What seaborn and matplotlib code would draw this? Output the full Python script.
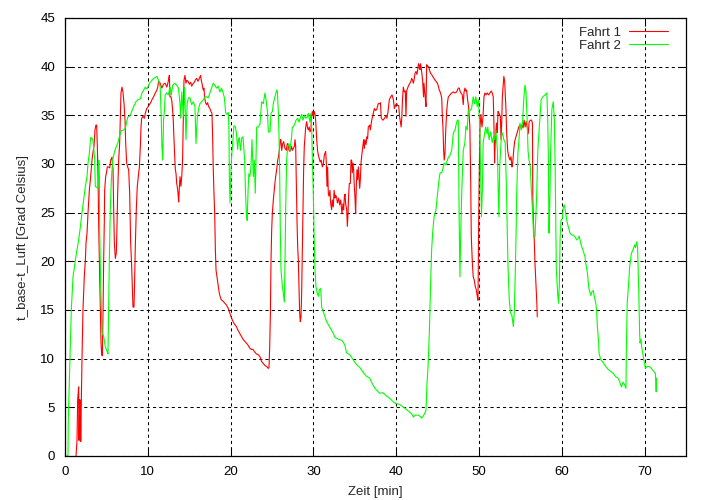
import matplotlib
matplotlib.use("Agg")
import matplotlib.pyplot as plt
import seaborn as sns

sns.set_style("ticks")
plt.rcParams['font.family'] = ['Liberation Sans', 'DejaVu Sans']
plt.rcParams['font.size'] = 9.5

# Fahrt 1 (red), Zeit in min
t_fahrt1 = [
    1.33, 1.45, 1.53, 1.65, 1.69, 1.78, 1.85, 1.9, 2.05, 2.17, 2.33, 2.46, 2.54, 2.66, 2.78, 2.94,
    3.1, 3.26, 3.38, 3.5, 3.62, 3.74, 3.82, 3.9, 3.99, 4.07, 4.19, 4.27, 4.35, 4.43, 4.51, 4.59,
    4.67, 4.75, 4.79, 4.91, 5.03, 5.11, 5.27, 5.4, 5.52, 5.68, 5.8, 5.88, 5.96, 6.08, 6.2, 6.28,
    6.36, 6.48, 6.6, 6.68, 6.76, 6.88, 7.0, 7.13, 7.25, 7.33, 7.45, 7.57, 7.69, 7.81, 7.93, 8.05,
    8.13, 8.21, 8.33, 8.41, 8.49, 8.61, 8.73, 8.85, 8.98, 9.1, 9.18, 9.26, 9.42, 9.58, 9.7, 9.87,
    10.03, 10.2, 10.4, 10.55, 10.7, 10.9, 11.05, 11.2, 11.3, 11.5, 11.7, 11.9, 12.1, 12.3, 12.5, 12.6,
    12.68, 12.8, 12.9, 13.0, 13.08, 13.15, 13.25, 13.33, 13.41, 13.49, 13.57, 13.65, 13.73, 13.81, 13.89, 14.0,
    14.1, 14.2, 14.29, 14.37, 14.49, 14.61, 14.7, 14.86, 15.02, 15.18, 15.3, 15.42, 15.62, 15.78, 15.9, 16.06,
    16.22, 16.38, 16.46, 16.54, 16.62, 16.7, 16.78, 16.86, 16.98, 17.1, 17.22, 17.34, 17.5, 17.62, 17.75, 17.83,
    17.9, 17.99, 18.08, 18.16, 18.24, 18.4, 18.52, 18.64, 18.8, 18.93, 19.1, 19.3, 19.5, 19.7, 19.9, 20.1,
    20.3, 20.5, 20.7, 20.9, 21.1, 21.3, 21.5, 21.7, 21.9, 22.1, 22.3, 22.5, 22.7, 22.9, 23.1, 23.35,
    23.55, 23.75, 23.95, 24.15, 24.35, 24.55, 24.64, 24.72, 24.8, 24.88, 24.96, 25.04, 25.16, 25.3, 25.44, 25.56,
    25.69, 25.77, 25.89, 26.0, 26.08, 26.17, 26.29, 26.41, 26.57, 26.73, 26.85, 26.97, 27.05, 27.17, 27.29, 27.37,
    27.45, 27.57, 27.7, 27.78, 27.86, 27.94, 28.02, 28.1, 28.18, 28.26, 28.34, 28.42, 28.5, 28.58, 28.66, 28.74,
    28.82, 28.9, 29.07, 29.19, 29.3, 29.38, 29.5, 29.59, 29.7, 29.79, 29.87, 29.99, 30.1, 30.19, 30.27, 30.4,
    30.5, 30.6, 30.7, 30.82, 30.94, 31.08, 31.2, 31.32, 31.48, 31.56, 31.64, 31.72, 31.8, 31.88, 32.0, 32.08,
    32.2, 32.28, 32.4, 32.5, 32.6, 32.68, 32.8, 32.9, 33.05, 33.17, 33.3, 33.45, 33.57, 33.65, 33.74, 33.82,
    33.9, 34.02, 34.1, 34.18, 34.26, 34.34, 34.46, 34.54, 34.62, 34.7, 34.78, 34.86, 34.94, 35.02, 35.1, 35.18,
    35.26, 35.35, 35.43, 35.51, 35.59, 35.67, 35.75, 35.83, 35.95, 36.07, 36.15, 36.23, 36.35, 36.47, 36.55, 36.63,
    36.8, 36.88, 37.04, 37.16, 37.28, 37.36, 37.5, 37.64, 37.84, 38.0, 38.1, 38.2, 38.4, 38.6, 38.72, 38.8,
    38.88, 39.0, 39.17, 39.33, 39.5, 39.66, 39.78, 39.94, 40.06, 40.18, 40.3, 40.4, 40.5, 40.6, 40.68, 40.76,
    40.86, 40.98, 41.1, 41.18, 41.26, 41.42, 41.58, 41.74, 41.87, 41.99, 42.07, 42.15, 42.27, 42.39, 42.51, 42.59,
    42.7, 42.79, 42.87, 42.95, 43.03, 43.11, 43.19, 43.3, 43.35, 43.43, 43.51, 43.6, 43.68, 43.8, 43.92, 44.04,
    44.16, 44.28, 44.4, 44.57, 44.69, 44.81, 44.97, 45.09, 45.2, 45.36, 45.5, 45.57, 45.65, 45.73, 45.8, 45.89,
    45.97, 46.1, 46.22, 46.3, 46.5, 46.7, 46.9, 47.1, 47.3, 47.5, 47.62, 47.7, 47.82, 47.98, 48.1, 48.18,
    48.3, 48.42, 48.5, 48.62, 48.74, 48.9, 49.0, 49.07, 49.2, 49.3, 49.42, 49.55, 49.67, 49.79, 49.88, 49.96,
    50.04, 50.12, 50.24, 50.36, 50.48, 50.6, 50.72, 50.84, 51.0, 51.16, 51.32, 51.48, 51.6, 51.72, 51.8, 51.88,
    51.96, 52.04, 52.12, 52.2, 52.3, 52.42, 52.58, 52.66, 52.74, 52.82, 53.0, 53.1, 53.26, 53.34, 53.46, 53.58,
    53.74, 53.86, 53.99, 54.07, 54.19, 54.3, 54.47, 54.63, 54.8, 54.95, 55.07, 55.2, 55.32, 55.45, 55.57, 55.7,
    55.82, 55.94, 56.06, 56.2, 56.35, 56.45, 56.5, 56.58, 56.66, 56.76, 56.84, 56.92, 56.98, 57.04,
]
v_fahrt1 = [
    0.0, 1.6, 5.8, 7.1, 1.6, 5.8, 5.6, 1.5, 9.9, 15.0, 18.4, 20.1, 21.9, 22.9, 25.0, 27.3,
    28.7, 30.4, 31.2, 31.8, 33.5, 34.0, 34.0, 32.0, 28.7, 23.6, 18.4, 15.0, 11.6, 10.4, 10.3, 14.7,
    20.1, 24.2, 27.3, 28.7, 29.2, 29.7, 29.7, 29.6, 30.4, 30.7, 29.4, 25.3, 21.9, 20.3, 20.9, 23.6,
    27.0, 30.4, 32.1, 34.5, 37.3, 37.9, 37.4, 36.2, 34.5, 32.1, 30.1, 29.7, 29.4, 27.0, 21.9, 19.5,
    17.4, 15.3, 15.3, 18.1, 21.5, 25.3, 27.7, 28.7, 29.7, 31.8, 33.8, 34.7, 34.9, 34.7, 35.2, 35.7,
    35.9, 36.1, 36.4, 36.7, 36.9, 37.3, 37.5, 37.9, 38.5, 38.3, 37.8, 38.2, 38.3, 37.9, 38.6, 39.1,
    36.9, 36.9, 36.5, 35.5, 34.5, 32.8, 30.75, 29.4, 29.0, 28.0, 27.6, 27.0, 26.1, 27.6, 28.7, 27.7,
    28.7, 30.4, 34.5, 38.6, 39.1, 38.3, 38.6, 38.5, 38.2, 38.4, 38.0, 38.2, 38.4, 38.7, 38.8, 38.5,
    38.8, 39.1, 38.6, 38.3, 37.9, 37.6, 37.8, 36.8, 36.3, 36.1, 36.3, 35.9, 35.7, 35.4, 35.2, 32.8,
    29.7, 27.0, 24.9, 21.2, 19.1, 18.1, 17.4, 16.7, 16.2, 16.0, 15.9, 15.7, 15.5, 15.2, 14.7, 14.2,
    13.8, 13.5, 13.3, 12.9, 12.6, 12.3, 12.0, 11.8, 11.6, 11.4, 11.1, 10.95, 10.95, 10.7, 10.5, 10.4,
    10.2, 9.7, 9.5, 9.3, 9.2, 9.0, 9.1, 11.2, 14.3, 20.1, 23.2, 24.9, 26.3, 27.6, 28.7, 29.4,
    30.4, 30.7, 31.4, 32.5, 32.5, 31.4, 32.1, 32.3, 31.6, 31.4, 32.1, 31.9, 31.4, 31.3, 31.6, 31.8,
    31.4, 31.6, 31.8, 32.5, 31.8, 27.7, 24.2, 21.5, 20.1, 17.4, 14.7, 13.8, 14.3, 16.7, 20.8, 25.3,
    29.4, 31.8, 33.8, 34.35, 33.7, 33.5, 33.8, 33.3, 33.5, 34.9, 35.4, 34.9, 35.4, 35.1, 34.5, 32.5,
    31.4, 30.9, 30.6, 30.2, 30.4, 29.7, 30.0, 30.9, 31.3, 30.1, 27.7, 29.7, 27.0, 26.7, 27.3, 26.0,
    25.3, 26.3, 25.6, 27.3, 26.5, 26.8, 26.6, 26.0, 26.5, 25.8, 26.3, 24.9, 25.9, 25.3, 26.6, 26.9,
    25.9, 25.3, 23.6, 24.9, 26.9, 28.0, 28.0, 30.4, 30.4, 29.1, 30.1, 29.4, 27.7, 26.6, 24.9, 27.6,
    29.4, 28.4, 29.7, 28.7, 27.5, 28.4, 30.1, 30.8, 31.7, 32.5, 31.6, 32.5, 32.0, 32.8, 32.6, 33.8,
    34.0, 33.5, 34.5, 34.9, 35.4, 35.7, 35.5, 35.6, 36.2, 36.2, 36.3, 34.7, 34.5, 34.7, 34.9, 35.0,
    34.7, 35.3, 36.6, 36.9, 37.1, 36.6, 35.7, 36.1, 36.2, 36.0, 36.0, 34.9, 34.35, 33.8, 34.9, 36.6,
    37.9, 37.4, 37.5, 34.9, 37.5, 37.9, 38.2, 38.4, 38.8, 38.6, 38.3, 38.6, 39.3, 39.5, 39.2, 39.7,
    40.3, 40.1, 39.7, 40.3, 39.8, 39.2, 38.6, 36.9, 38.3, 37.6, 36.8, 35.9, 40.2, 40.0, 40.0, 39.6,
    39.3, 39.2, 39.0, 38.8, 38.6, 38.5, 38.3, 38.0, 37.6, 37.3, 36.75, 34.9, 33.7, 31.4, 30.4, 31.1,
    33.2, 35.5, 36.5, 36.9, 37.1, 37.3, 37.4, 37.3, 37.4, 37.8, 37.8, 37.5, 37.3, 37.1, 36.1, 37.3,
    37.8, 37.5, 37.6, 36.6, 35.9, 33.8, 28.0, 22.5, 19.8, 18.4, 18.1, 17.4, 17.1, 16.4, 16.0, 23.9,
    29.7, 33.8, 35.1, 33.8, 34.8, 36.9, 37.3, 37.1, 37.3, 37.1, 37.3, 37.5, 37.3, 36.9, 34.2, 30.1,
    32.2, 33.5, 34.2, 33.2, 35.4, 35.2, 34.9, 32.5, 34.2, 36.9, 39.0, 38.5, 35.5, 33.2, 31.4, 30.8,
    30.4, 30.75, 29.7, 30.1, 31.4, 32.3, 32.8, 33.3, 33.8, 34.0, 33.8, 34.0, 33.7, 34.5, 33.8, 34.35,
    33.8, 33.1, 34.35, 34.5, 34.5, 34.2, 26.3, 23.9, 22.5, 19.8, 18.4, 17.1, 15.8, 14.3,
]

# Fahrt 2 (green)
t_fahrt2 = [
    0.0, 0.36, 0.4, 0.6, 0.76, 0.97, 1.25, 1.45, 1.65, 1.85, 2.05, 2.25, 2.46, 2.66, 2.78, 2.94,
    3.1, 3.26, 3.38, 3.46, 3.58, 3.66, 3.99, 4.07, 4.15, 4.19, 4.3, 4.39, 4.47, 4.67, 4.87, 5.07,
    5.19, 5.27, 5.35, 5.47, 5.6, 5.76, 5.96, 6.2, 6.4, 6.56, 6.8, 7.08, 7.3, 7.57, 7.89, 8.1,
    8.29, 8.57, 8.8, 9.1, 9.3, 9.5, 9.7, 9.9, 10.1, 10.3, 10.5, 10.7, 10.9, 11.1, 11.3, 11.5,
    11.63, 11.7, 11.8, 11.9, 12.0, 12.1, 12.28, 12.48, 12.68, 12.85, 13.0, 13.25, 13.49, 13.7, 13.89, 13.97,
    14.1, 14.29, 14.45, 14.61, 14.75, 14.9, 15.1, 15.3, 15.5, 15.7, 15.82, 15.98, 16.14, 16.3, 16.5, 16.7,
    16.9, 17.1, 17.3, 17.5, 17.7, 17.9, 18.1, 18.3, 18.5, 18.7, 18.9, 19.1, 19.25, 19.4, 19.55, 19.73,
    19.8, 19.85, 19.93, 20.05, 20.13, 20.25, 20.4, 20.55, 20.7, 20.85, 20.95, 21.05, 21.2, 21.35, 21.5, 21.7,
    21.8, 21.9, 22.0, 22.1, 22.2, 22.33, 22.46, 22.58, 22.75, 22.86, 22.98, 23.15, 23.35, 23.55, 23.65, 23.75,
    23.95, 24.15, 24.28, 24.45, 24.56, 24.76, 24.88, 25.05, 25.16, 25.35, 25.48, 25.57, 25.65, 25.77, 25.85, 25.93,
    26.0, 26.09, 26.25, 26.37, 26.49, 26.57, 26.65, 26.77, 26.89, 27.05, 27.17, 27.37, 27.45, 27.57, 27.74, 27.9,
    28.1, 28.26, 28.4, 28.58, 28.74, 28.9, 29.07, 29.23, 29.38, 29.59, 29.7, 29.79, 29.87, 29.99, 30.07, 30.19,
    30.31, 30.47, 30.6, 30.72, 30.88, 31.0, 31.2, 31.4, 31.6, 31.8, 32.0, 32.2, 32.4, 32.6, 33.0, 33.4,
    33.6, 33.8, 34.0, 34.4, 34.8, 35.2, 35.6, 36.0, 36.4, 36.8, 37.0, 37.4, 37.7, 38.0, 38.4, 38.8,
    39.25, 39.6, 39.9, 40.4, 41.06, 41.5, 41.9, 42.07, 42.3, 42.7, 43.1, 43.4, 43.6, 43.72, 43.84, 44.0,
    44.16, 44.28, 44.4, 44.57, 44.8, 44.97, 45.13, 45.3, 45.5, 45.6, 45.8, 46.0, 46.3, 46.5, 46.7, 46.9,
    47.1, 47.3, 47.4, 47.5, 47.6, 47.7, 47.8, 47.92, 48.1, 48.3, 48.42, 48.58, 48.7, 48.9, 49.1, 49.3,
    49.46, 49.62, 49.78, 49.94, 50.1, 50.18, 50.3, 50.42, 50.5, 50.62, 50.8, 50.98, 51.06, 51.22, 51.4, 51.6,
    51.76, 51.9, 52.02, 52.1, 52.22, 52.3, 52.4, 52.5, 52.7, 52.82, 53.0, 53.16, 53.3, 53.38, 53.5, 53.66,
    53.8, 53.98, 54.15, 54.27, 54.4, 54.5, 54.55, 54.7, 54.83, 54.95, 55.1, 55.26, 55.4, 55.55, 55.67, 55.8,
    55.92, 56.04, 56.2, 56.32, 56.5, 56.6, 56.76, 56.96, 57.1, 57.37, 57.5, 57.7, 57.97, 58.2, 58.3, 58.37,
    58.45, 58.55, 58.65, 58.8, 58.97, 59.1, 59.2, 59.34, 59.5, 59.6, 59.7, 59.8, 59.9, 60.06, 60.2, 60.3,
    60.45, 60.6, 60.8, 61.0, 61.2, 61.4, 61.6, 61.8, 62.0, 62.1, 62.3, 62.45, 62.6, 62.8, 62.9, 63.1,
    63.2, 63.3, 63.5, 63.65, 63.8, 63.95, 64.1, 64.2, 64.3, 64.45, 64.5, 64.7, 65.0, 65.3, 65.6, 65.9,
    66.2, 66.5, 66.8, 67.0, 67.2, 67.4, 67.6, 67.75, 67.8, 67.9, 68.1, 68.2, 68.4, 68.6, 68.8, 68.9,
    69.05, 69.15, 69.3, 69.4, 69.45, 69.55, 69.65, 69.9, 70.1, 70.3, 70.6, 70.9, 71.1, 71.3, 71.4, 71.45,
]
v_fahrt2 = [
    0.0, 0.0, 3.9, 9.9, 15.0, 18.4, 20.1, 21.2, 22.2, 23.5, 25.0, 26.3, 27.7, 28.7, 30.1, 31.1,
    32.7, 32.7, 32.4, 31.7, 30.6, 27.7, 27.5, 30.4, 29.0, 23.0, 18.0, 15.0, 12.7, 12.3, 11.2, 10.8,
    10.5, 15.0, 20.0, 25.3, 28.4, 30.4, 31.2, 31.8, 32.2, 32.8, 33.4, 33.5, 33.7, 34.8, 35.0, 35.5,
    35.9, 36.4, 36.6, 36.7, 37.3, 37.6, 37.9, 37.7, 38.1, 38.4, 38.6, 38.8, 38.9, 39.0, 38.6, 37.9,
    34.5, 31.8, 30.4, 34.5, 35.4, 37.1, 37.3, 37.1, 37.9, 37.1, 38.1, 38.3, 38.1, 37.8, 36.2, 34.7,
    37.4, 34.9, 37.9, 32.5, 36.2, 36.8, 36.8, 36.1, 36.4, 35.9, 32.1, 34.8, 35.7, 36.2, 36.4, 36.6,
    36.9, 36.9, 36.8, 37.3, 37.8, 38.3, 38.1, 37.8, 38.0, 37.4, 37.8, 37.3, 36.8, 35.3, 35.1, 35.3,
    33.5, 28.7, 26.0, 29.4, 30.8, 32.2, 33.9, 33.9, 33.2, 31.5, 32.5, 32.7, 31.4, 32.7, 32.8, 30.4,
    27.0, 25.0, 24.2, 27.0, 29.0, 28.7, 29.7, 32.5, 28.7, 30.4, 27.0, 33.8, 33.8, 34.1, 35.2, 36.4,
    36.2, 37.3, 36.6, 35.4, 33.3, 33.3, 35.2, 35.4, 36.2, 36.9, 37.3, 37.6, 37.4, 35.2, 32.8, 28.7,
    23.5, 19.1, 17.4, 16.7, 15.8, 20.0, 25.3, 30.4, 31.8, 32.1, 31.4, 32.8, 33.8, 33.8, 34.1, 34.5,
    34.7, 34.3, 34.7, 35.1, 34.5, 35.0, 34.7, 34.8, 35.2, 34.3, 35.2, 33.9, 30.7, 27.0, 23.2, 19.1,
    17.4, 16.7, 16.4, 17.1, 17.2, 15.3, 14.8, 14.3, 13.8, 13.5, 13.2, 12.9, 12.6, 12.2, 12.0, 11.9,
    11.7, 11.4, 10.6, 10.4, 9.9, 9.4, 9.1, 8.6, 8.2, 8.0, 7.6, 7.0, 6.7, 6.45, 6.5, 6.2,
    5.9, 5.6, 5.4, 5.3, 4.9, 4.6, 4.3, 4.0, 4.2, 4.2, 3.9, 4.3, 4.7, 7.5, 9.1, 12.6,
    17.8, 21.2, 22.9, 24.6, 25.3, 26.7, 28.1, 29.1, 29.1, 29.4, 30.1, 29.9, 30.7, 30.9, 31.4, 33.2,
    33.5, 34.3, 34.5, 34.5, 24.6, 18.4, 23.2, 27.3, 31.4, 32.2, 33.9, 33.5, 35.5, 35.5, 35.7, 36.9,
    36.2, 36.9, 35.9, 36.6, 33.5, 29.7, 24.6, 27.8, 32.2, 32.8, 33.8, 33.1, 33.8, 32.5, 33.3, 32.2,
    32.8, 32.5, 33.5, 32.8, 31.4, 28.0, 24.6, 29.7, 32.8, 33.2, 32.5, 32.2, 28.0, 24.6, 19.5, 16.0,
    14.7, 14.4, 13.3, 15.0, 19.5, 23.9, 27.0, 31.1, 32.5, 34.2, 33.5, 34.2, 36.6, 38.1, 37.5, 34.9,
    31.4, 30.4, 29.7, 27.3, 24.6, 22.5, 22.5, 26.6, 31.4, 34.9, 36.6, 36.9, 37.1, 37.3, 34.5, 31.1,
    22.9, 26.0, 31.4, 35.6, 36.4, 34.6, 29.4, 19.1, 16.7, 15.7, 17.5, 22.5, 24.2, 24.4, 25.6, 25.8,
    25.1, 24.2, 23.5, 22.9, 22.7, 22.7, 22.5, 22.2, 22.4, 22.6, 21.8, 21.4, 21.0, 20.5, 19.8, 18.8,
    17.8, 17.1, 16.5, 16.9, 17.0, 16.3, 15.7, 15.0, 13.3, 11.6, 10.55, 9.9, 9.6, 9.2, 8.9, 8.7,
    8.5, 8.15, 8.0, 7.6, 7.1, 7.6, 7.3, 6.95, 11.2, 15.7, 18.1, 19.5, 20.8, 21.2, 21.7, 21.4,
    22.0, 21.5, 16.7, 12.6, 11.6, 12.0, 11.2, 9.9, 9.0, 9.2, 9.2, 8.9, 8.7, 8.5, 6.6, 8.0,
]

x_ticks = list(range(0, 71, 10))
y_ticks = list(range(0, 46, 5))

fig, ax = plt.subplots(figsize=(7.13, 5.0), dpi=100)
fig.subplots_adjust(left=65 / 713, right=686 / 713, bottom=44 / 500, top=482 / 500)

sns.lineplot(x=t_fahrt1, y=v_fahrt1, color='#ff0000', linewidth=0.8, label='Fahrt 1',
             estimator=None, sort=False, ax=ax)
sns.lineplot(x=t_fahrt2, y=v_fahrt2, color='#00ff00', linewidth=0.8, label='Fahrt 2',
             estimator=None, sort=False, ax=ax)

ax.set_xlim(0, 75)
ax.set_ylim(0, 45)
ax.set_xticks(x_ticks)
ax.set_yticks(y_ticks)
ax.grid(True, color='black', linestyle=(0, (3, 3)), linewidth=0.75)
ax.set_axisbelow(True)
ax.tick_params(direction='in', top=True, right=True, length=6, width=0.75,
               colors='black', labelsize=9.5, pad=7)
for sp in ax.spines.values():
    sp.set_color('black')
    sp.set_linewidth(0.9)

ax.set_xlabel('Zeit [min]', fontsize=9.5, labelpad=6)
ax.set_ylabel('t_base-t_Luft [Grad Celsius]', fontsize=9.5, labelpad=8)

# legend: text first, then the line sample (gnuplot style)
ax.legend(loc='upper right', bbox_to_anchor=(1 - 7 / 621, 1.0 + 2 / 438), frameon=False,
          markerfirst=False, handlelength=3.0, handletextpad=0.6, labelspacing=0.05,
          fontsize=9.5, borderaxespad=0.4)

plt.savefig('out.png', dpi=100)
